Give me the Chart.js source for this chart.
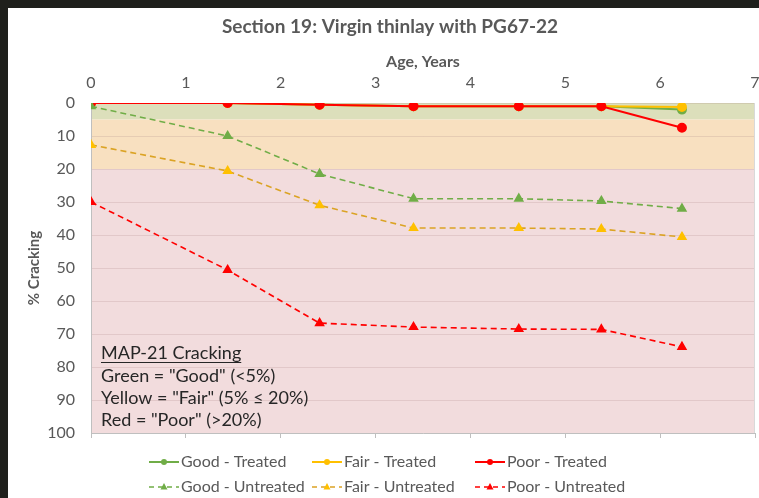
<!DOCTYPE html>
<html>
<head>
<meta charset="utf-8">
<script src="https://cdn.jsdelivr.net/npm/chart.js@4.4.1/dist/chart.umd.min.js"></script>
<style>
  html, body { margin: 0; padding: 0; }
  body { width: 759px; height: 498px; background: #1f201c; position: relative; overflow: hidden; }
  #wrap { position: absolute; left: 8px; top: 8px; width: 751px; height: 490px; background: #fff; }
</style>
</head>
<body>
<div id="wrap"><canvas id="chart" width="751" height="490"></canvas></div>
<script>
// Данные графика
const ages = [0, 1.44, 2.41, 3.4, 4.51, 5.38, 6.23];
const goodTreated = [0, 0, 0.5, 1, 1, 1, 2];
const fairTreated = [0, 0, 0.5, 1, 1, 1, 1.2];
const poorTreated = [0, 0, 0.5, 1, 1, 1, 7.5];
const goodUntreated = [1, 10, 21.5, 29, 29, 29.7, 32];
const fairUntreated = [12.7, 20.6, 31, 37.9, 37.9, 38.2, 40.6];
const poorUntreated = [30, 50.6, 66.7, 67.9, 68.5, 68.6, 73.9];

const xTicks = [0, 1, 2, 3, 4, 5, 6, 7];
const yTicks = [0, 10, 20, 30, 40, 50, 60, 70, 80, 90, 100];

// Зоны MAP-21
const bands = [
    { from: 0, to: 5, color: '#dcdfbb' },
    { from: 5, to: 20, color: '#f8e0c0' },
    { from: 20, to: 100, color: '#f2dcdd' }
];

const noteLines = [
    'MAP-21 Cracking',
    'Green = "Good" (<5%)',
    'Yellow = "Fair" (5% \u2264 20%)',
    'Red = "Poor" (>20%)'
];

const GREEN = '#70ad47';
const YELLOW = '#ffc000';
const RED = '#ff0000';
const GRAY = '#595959';
const FONT = 'Lato, "Liberation Sans", sans-serif';

function points(values) {
    return values.map((v, i) => ({ x: ages[i], y: v }));
}

function treated(label, values, color, order) {
    return {
        label: label,
        data: points(values),
        borderColor: color,
        backgroundColor: color,
        borderWidth: 2,
        pointStyle: 'circle',
        pointRadius: 4,
        showLine: true,
        order: order
    };
}

function untreated(label, values, color, order) {
    return {
        label: label,
        data: points(values),
        borderColor: color,
        backgroundColor: color,
        borderWidth: 1.6,
        borderDash: [6, 4],
        pointStyle: 'triangle',
        pointRadius: 4.5,
        showLine: true,
        order: order
    };
}

const datasets = [
    treated('Good - Treated', goodTreated, GREEN, 6),
    treated('Fair - Treated', fairTreated, YELLOW, 5),
    treated('Poor - Treated', poorTreated, RED, 4),
    untreated('Good - Untreated', goodUntreated, GREEN, 3),
    untreated('Fair - Untreated', fairUntreated, '#dba324', 2),
    untreated('Poor - Untreated', poorUntreated, RED, 1)
];
// маркеры у Fair - Untreated жёлтые, линия чуть темнее
datasets[4].backgroundColor = YELLOW;
datasets[4].pointBorderColor = YELLOW;

const decorPlugin = {
    id: 'decor',
    beforeDraw(chart) {
        const { ctx, chartArea: a, scales } = chart;
        const y = scales.y;
        ctx.save();
        bands.forEach(b => {
            const y1 = y.getPixelForValue(b.from);
            const y2 = y.getPixelForValue(b.to);
            ctx.fillStyle = b.color;
            ctx.fillRect(a.left, y1, a.right - a.left, y2 - y1);
        });
        ctx.restore();
    },
    afterDraw(chart) {
        const { ctx, chartArea: a } = chart;
        ctx.save();

        // правая граница области
        ctx.strokeStyle = '#d9d9d9';
        ctx.lineWidth = 1;
        ctx.beginPath();
        ctx.moveTo(a.right - 0.5, a.top);
        ctx.lineTo(a.right - 0.5, a.bottom);
        ctx.stroke();

        // заголовок
        ctx.fillStyle = GRAY;
        ctx.font = 'bold 19px ' + FONT;
        ctx.textAlign = 'center';
        ctx.textBaseline = 'middle';
        ctx.fillText('Section 19: Virgin thinlay with PG67-22', 382, 19);

        // подпись с зонами
        ctx.fillStyle = '#262626';
        ctx.font = '18px ' + FONT;
        ctx.textAlign = 'left';
        const noteY = [345, 368, 390, 412];
        noteLines.forEach((t, i) => {
            ctx.fillText(t, 93, noteY[i]);
        });
        const w = ctx.measureText(noteLines[0]).width;
        ctx.strokeStyle = '#262626';
        ctx.lineWidth = 1;
        ctx.beginPath();
        ctx.moveTo(93, noteY[0] + 9.5);
        ctx.lineTo(93 + w, noteY[0] + 9.5);
        ctx.stroke();

        // легенда
        const colX = [141, 304, 467];
        const rowY = [454, 479];
        ctx.font = '16px ' + FONT;
        chart.data.datasets.forEach((ds, i) => {
            const x = colX[i % 3];
            const yy = rowY[Math.floor(i / 3)];
            ctx.strokeStyle = ds.borderColor;
            ctx.lineWidth = ds.borderWidth;
            ctx.setLineDash(ds.borderDash ? [5, 4] : []);
            ctx.beginPath();
            ctx.moveTo(x, yy);
            ctx.lineTo(x + 30, yy);
            ctx.stroke();
            ctx.setLineDash([]);
            ctx.fillStyle = ds.backgroundColor;
            ctx.beginPath();
            if (ds.pointStyle === 'triangle') {
                ctx.moveTo(x + 15, yy - 4);
                ctx.lineTo(x + 18.5, yy + 2.5);
                ctx.lineTo(x + 11.5, yy + 2.5);
                ctx.closePath();
            } else {
                ctx.arc(x + 15, yy, 3, 0, Math.PI * 2);
            }
            ctx.fill();
            ctx.fillStyle = GRAY;
            ctx.fillText(ds.label, x + 32, yy);
        });

        ctx.restore();
    }
};

new Chart(document.getElementById('chart'), {
    type: 'scatter',
    data: { datasets: datasets },
    plugins: [decorPlugin],
    options: {
        responsive: false,
        animation: false,
        layout: { autoPadding: false, padding: { left: 0, right: 4, top: 40, bottom: 60 } },
        plugins: {
            legend: { display: false },
            title: { display: false },
            tooltip: { enabled: false }
        },
        scales: {
            x: {
                type: 'linear',
                position: 'top',
                min: 0,
                max: 7,
                afterBuildTicks: s => { s.ticks = xTicks.map(v => ({ value: v })); },
                afterFit: s => { s.height = 55; s.paddingRight = 0; },
                grid: { display: true, drawOnChartArea: false, drawTicks: true, tickLength: 11, color: 'rgba(0,0,0,0)' },
                border: { display: false },
                ticks: { color: GRAY, padding: 0, font: { family: FONT, size: 16 } },
                title: {
                    display: true,
                    text: 'Age, Years',
                    color: GRAY,
                    font: { family: FONT, size: 16, weight: 'bold' }
                }
            },
            x2: {
                type: 'linear',
                position: 'bottom',
                min: 0,
                max: 7,
                afterBuildTicks: s => { s.ticks = xTicks.map(v => ({ value: v })); },
                afterFit: s => { s.height = 5; s.paddingRight = 0; },
                grid: { drawOnChartArea: false, drawTicks: true, tickLength: 5, color: '#bfbfbf' },
                border: { color: '#bfbfbf' },
                ticks: { display: false }
            },
            y: {
                type: 'linear',
                reverse: true,
                min: 0,
                max: 100,
                afterBuildTicks: s => { s.ticks = yTicks.map(v => ({ value: v })); },
                afterFit: s => { s.width = 83; },
                grid: { color: 'rgba(170,130,130,0.22)', drawTicks: false },
                border: { color: '#bfbfbf' },
                ticks: { color: GRAY, padding: 16, font: { family: FONT, size: 16 } },
                title: {
                    display: true,
                    text: '% Cracking',
                    color: GRAY,
                    padding: { top: 17, bottom: 0 },
                    font: { family: FONT, size: 15, weight: 'bold' }
                }
            }
        }
    }
});
</script>
</body>
</html>
